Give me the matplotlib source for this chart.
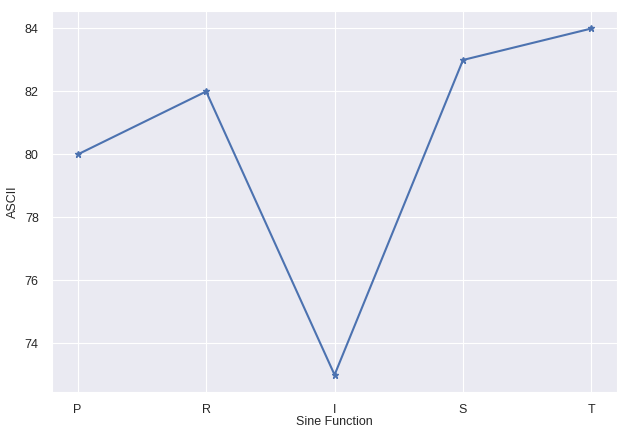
import matplotlib
matplotlib.use("Agg")
import matplotlib.pyplot as plt
import seaborn as sns

# ================================================================================================
# Data
# ================================================================================================
letters = ["P", "R", "I", "S", "T"]
ascii_codes = [80, 82, 73, 83, 84]

# ================================================================================================
# Style
# ================================================================================================
sns.set_style("darkgrid", {"axes.facecolor": "#EAEAF2", "grid.color": "white"})
plt.rcParams["font.family"] = ["Liberation Sans", "DejaVu Sans"]

fig = plt.figure(figsize=(6.19, 4.30), dpi=100)
ax = fig.add_axes([0.084, 0.088, 0.913, 0.886])

ax.plot(letters, ascii_codes, color="#4C72B0", linewidth=1.5, marker="*", markersize=5)
ax.set_xlabel("Sine Function", fontsize=9, color="#262626", labelpad=0)
ax.set_ylabel("ASCII", fontsize=9, color="#262626", labelpad=4)
ax.tick_params(axis="both", labelsize=9, colors="#262626")
ax.tick_params(axis="x", pad=5)
ax.tick_params(axis="y", pad=6)
ax.set_yticks([74, 76, 78, 80, 82, 84])

fig.savefig("out.png", dpi=100)
